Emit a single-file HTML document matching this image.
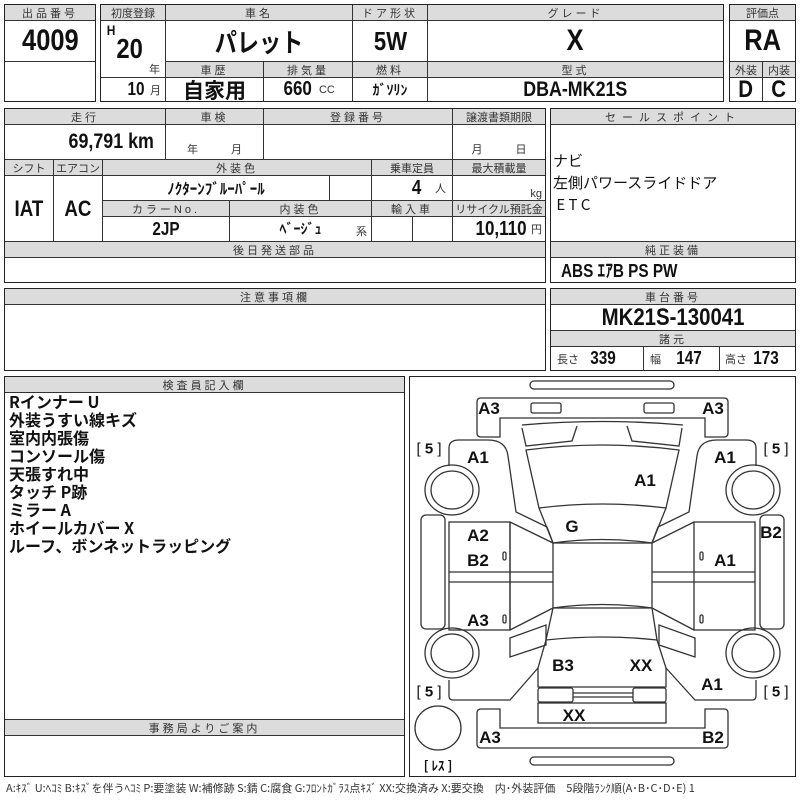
<!DOCTYPE html>
<html><head><meta charset="utf-8">
<style>
*{margin:0;padding:0;box-sizing:border-box}
body{width:800px;height:800px;background:#fff;position:relative;overflow:hidden;font-family:"Liberation Sans","Noto Sans CJK JP",sans-serif;color:#111}
.c{position:absolute;border:1px solid #333;display:flex;align-items:center;justify-content:center;white-space:nowrap;overflow:hidden}
.h{background:#dcdcdc;font-size:11px;letter-spacing:3px;color:#333}
.o{position:absolute;border:1.5px solid #222}
.v{font-family:"Liberation Sans Narrow","Liberation Sans","Noto Sans CJK JP",sans-serif;font-weight:bold;transform:scaleX(.85)}
.t{position:absolute;white-space:nowrap}
.sm{font-size:11px;color:#333;font-weight:normal}
.d{position:absolute;font-weight:bold;font-size:17px;font-family:"Liberation Sans","Noto Sans CJK JP",sans-serif;transform:translate(-50%,-50%);white-space:nowrap}
.memo{position:absolute;left:9px;top:392px;font-size:16px;font-weight:bold;line-height:18px;font-family:"Noto Sans CJK JP",sans-serif}
</style></head><body>
<!-- block A -->
<div class="c h" style="left:4px;top:4px;width:92px;height:17px">出品番号</div>
<div class="c" style="left:4px;top:20px;width:92px;height:42px"><span class="v" style="font-size:30px">4009</span></div>
<div class="c" style="left:4px;top:61px;width:92px;height:41px"></div>
<div class="o" style="left:4px;top:4px;width:92px;height:98px"></div>
<!-- block B -->
<div class="c h" style="left:100px;top:4px;width:66px;height:17px;letter-spacing:0">初度登録</div>
<div class="c h" style="left:165px;top:4px;width:188px;height:17px">車名</div>
<div class="c h" style="left:352px;top:4px;width:76px;height:17px">ドア形状</div>
<div class="c h" style="left:427px;top:4px;width:297px;height:17px">グレード</div>
<div class="c" style="left:100px;top:20px;width:66px;height:58px"></div>
<div class="t v" style="left:106px;top:22px;font-size:14px">H</div>
<div class="t v" style="left:114px;top:33px;font-size:28px">20</div>
<div class="t sm" style="left:149px;top:61px">年</div>
<div class="c" style="left:165px;top:20px;width:188px;height:42px"><span class="v" style="font-size:26px;font-family:'Noto Sans CJK JP',sans-serif">パレット</span></div>
<div class="c" style="left:352px;top:20px;width:76px;height:42px"><span class="v" style="font-size:26px">5W</span></div>
<div class="c" style="left:427px;top:20px;width:297px;height:42px"><span class="v" style="font-size:30px">X</span></div>
<div class="c h" style="left:165px;top:61px;width:99px;height:17px">車歴</div>
<div class="c h" style="left:263px;top:61px;width:90px;height:17px">排気量</div>
<div class="c h" style="left:352px;top:61px;width:76px;height:17px">燃料</div>
<div class="c h" style="left:427px;top:61px;width:297px;height:17px">型式</div>
<div class="c" style="left:100px;top:77px;width:66px;height:25px;justify-content:flex-end;padding-right:4px"><span class="v" style="font-size:18px">10</span>&nbsp;<span class="sm">月</span></div>
<div class="c" style="left:165px;top:77px;width:99px;height:25px"><span style="font-size:21px;font-weight:bold;font-family:'Noto Sans CJK JP',sans-serif">自家用</span></div>
<div class="c" style="left:263px;top:77px;width:90px;height:25px"><span class="v" style="font-size:20px">660</span>&nbsp;<span class="sm">CC</span></div>
<div class="c" style="left:352px;top:77px;width:76px;height:25px"><span style="font-size:14px;font-weight:bold;font-family:'Noto Sans CJK JP',sans-serif">ｶﾞｿﾘﾝ</span></div>
<div class="c" style="left:427px;top:77px;width:297px;height:25px"><span class="v" style="font-size:21px">DBA-MK21S</span></div>
<div class="o" style="left:100px;top:4px;width:624px;height:98px"></div>
<!-- block C -->
<div class="c h" style="left:729px;top:4px;width:67px;height:17px;letter-spacing:0">評価点</div>
<div class="c" style="left:729px;top:20px;width:67px;height:42px"><span class="v" style="font-size:30px">RA</span></div>
<div class="c h" style="left:729px;top:61px;width:34px;height:17px;letter-spacing:0">外装</div>
<div class="c h" style="left:762px;top:61px;width:34px;height:17px;letter-spacing:0">内装</div>
<div class="c" style="left:729px;top:77px;width:34px;height:25px"><span class="v" style="font-size:24px">D</span></div>
<div class="c" style="left:762px;top:77px;width:34px;height:25px"><span class="v" style="font-size:24px">C</span></div>
<div class="o" style="left:729px;top:4px;width:67px;height:98px"></div>
<!-- block 2 -->
<div class="c h" style="left:4px;top:108px;width:162px;height:17px">走行</div>
<div class="c h" style="left:165px;top:108px;width:99px;height:17px">車検</div>
<div class="c h" style="left:263px;top:108px;width:190px;height:17px">登録番号</div>
<div class="c h" style="left:452px;top:108px;width:94px;height:17px;letter-spacing:0">譲渡書類期限</div>
<div class="c" style="left:4px;top:124px;width:162px;height:36px;justify-content:flex-end;padding-right:4px"><span class="v" style="font-size:21px">69,791 km</span></div>
<div class="c" style="left:165px;top:124px;width:99px;height:36px;align-items:flex-end;padding-bottom:2px"><span class="sm">年　　　月</span></div>
<div class="c" style="left:263px;top:124px;width:190px;height:36px"></div>
<div class="c" style="left:452px;top:124px;width:94px;height:36px;align-items:flex-end;padding-bottom:2px"><span class="sm">月　　　日</span></div>
<div class="c h" style="left:4px;top:159px;width:50px;height:17px;letter-spacing:0">シフト</div>
<div class="c h" style="left:53px;top:159px;width:50px;height:17px;letter-spacing:0">エアコン</div>
<div class="c h" style="left:102px;top:159px;width:270px;height:17px">外装色</div>
<div class="c h" style="left:371px;top:159px;width:82px;height:17px;letter-spacing:0">乗車定員</div>
<div class="c h" style="left:452px;top:159px;width:94px;height:17px;letter-spacing:0">最大積載量</div>
<div class="c" style="left:4px;top:175px;width:50px;height:67px"><span class="v" style="font-size:22px">IAT</span></div>
<div class="c" style="left:53px;top:175px;width:50px;height:67px"><span class="v" style="font-size:22px">AC</span></div>
<div class="c" style="left:102px;top:175px;width:228px;height:26px"><span style="font-size:15px;font-weight:bold;font-family:'Noto Sans CJK JP',sans-serif">ﾉｸﾀｰﾝﾌﾞﾙｰﾊﾟｰﾙ</span></div>
<div class="c" style="left:329px;top:175px;width:43px;height:26px"></div>
<div class="c" style="left:371px;top:175px;width:82px;height:26px;justify-content:flex-end;padding-right:6px"><span class="v" style="font-size:20px">4</span>&nbsp;&nbsp;&nbsp;<span class="sm">人</span></div>
<div class="c" style="left:452px;top:175px;width:94px;height:26px;justify-content:flex-end;padding-right:3px;align-items:flex-end"><span class="sm">kg</span></div>
<div class="c h" style="left:102px;top:200px;width:128px;height:17px">カラーNo.</div>
<div class="c h" style="left:229px;top:200px;width:143px;height:17px">内装色</div>
<div class="c h" style="left:371px;top:200px;width:82px;height:17px">輸入車</div>
<div class="c h" style="left:452px;top:200px;width:94px;height:17px;letter-spacing:0">リサイクル預託金</div>
<div class="c" style="left:102px;top:216px;width:128px;height:26px"><span class="v" style="font-size:18px">2JP</span></div>
<div class="c" style="left:229px;top:216px;width:143px;height:26px"><span style="font-size:14px;font-weight:bold;font-family:'Noto Sans CJK JP',sans-serif">ﾍﾞｰｼﾞｭ</span><span class="sm" style="position:absolute;right:4px;bottom:2px">系</span></div>
<div class="c" style="left:371px;top:216px;width:42px;height:26px"></div>
<div class="c" style="left:412px;top:216px;width:41px;height:26px"></div>
<div class="c" style="left:452px;top:216px;width:94px;height:26px;justify-content:flex-end;padding-right:3px"><span class="v" style="font-size:20px">10,110</span><span class="sm">円</span></div>
<div class="c h" style="left:4px;top:241px;width:542px;height:17px">後日発送部品</div>
<div class="c" style="left:4px;top:257px;width:542px;height:26px"></div>
<div class="o" style="left:4px;top:108px;width:542px;height:175px"></div>
<!-- sales point -->
<div class="c h" style="left:550px;top:108px;width:246px;height:17px;letter-spacing:6px">セールスポイント</div>
<div class="c" style="left:550px;top:124px;width:246px;height:118px"></div>
<div class="t" style="left:553px;top:150px;font-size:15px;line-height:22px;font-family:'Noto Sans CJK JP',sans-serif">ナビ<br>左側パワースライドドア<br>&nbsp;E T C</div>
<div class="c h" style="left:550px;top:241px;width:246px;height:17px">純正装備</div>
<div class="c" style="left:550px;top:257px;width:246px;height:26px;justify-content:flex-start;padding-left:10px"><span class="v" style="font-size:18px;transform-origin:left">ABS ｴｱB PS PW</span></div>
<div class="o" style="left:550px;top:108px;width:246px;height:175px"></div>
<!-- 注意 -->
<div class="c h" style="left:4px;top:288px;width:542px;height:17px">注意事項欄</div>
<div class="o" style="left:4px;top:288px;width:542px;height:83px"></div>
<!-- 車台番号 -->
<div class="c h" style="left:550px;top:288px;width:246px;height:17px">車台番号</div>
<div class="c" style="left:550px;top:304px;width:246px;height:27px"><span class="v" style="font-size:24px">MK21S-130041</span></div>
<div class="c h" style="left:550px;top:330px;width:246px;height:17px">諸元</div>
<div class="c" style="left:550px;top:346px;width:94px;height:25px;justify-content:flex-start;padding-left:6px"><span class="sm">長さ</span>&nbsp;&nbsp;<span class="v" style="font-size:18px">339</span></div>
<div class="c" style="left:643px;top:346px;width:77px;height:25px;justify-content:flex-start;padding-left:6px"><span class="sm">幅</span>&nbsp;&nbsp;&nbsp;<span class="v" style="font-size:18px">147</span></div>
<div class="c" style="left:719px;top:346px;width:77px;height:25px;justify-content:flex-start;padding-left:5px"><span class="sm">高さ</span>&nbsp;<span class="v" style="font-size:18px">173</span></div>
<div class="o" style="left:550px;top:288px;width:246px;height:83px"></div>
<!-- 検査員 -->
<div class="c h" style="left:4px;top:376px;width:401px;height:17px">検査員記入欄</div>
<div class="memo">Rインナー U<br>外装うすい線キズ<br>室内内張傷<br>コンソール傷<br>天張すれ中<br>タッチ P跡<br>ミラー A<br>ホイールカバー X<br>ルーフ、ボンネットラッピング</div>
<div class="c h" style="left:4px;top:719px;width:401px;height:17px">事務局よりご案内</div>
<div class="o" style="left:4px;top:376px;width:401px;height:401px"></div>
<!-- diagram -->
<div class="o" style="left:409px;top:376px;width:387px;height:401px"></div>
<svg style="position:absolute;left:0;top:0" width="800" height="800" fill="none" stroke="#333" stroke-width="1.3">
<rect x="530" y="381" width="144" height="8" rx="4"/>
<rect x="530" y="757" width="144" height="8" rx="4"/>
<path d="M477,402q0,-4 4,-4H724q4,0 4,4V433q0,4 -4,4H705V418H500V437H481q-4,0 -4,-4Z"/>
<path d="M477,744q0,4 4,4H724q4,0 4,-4V713q0,-4 -4,-4H705V728H500V709H481q-4,0 -4,4Z"/>
<rect x="531" y="403" width="30" height="10" rx="2"/><rect x="644" y="403" width="30" height="10" rx="2"/>
<path d="M522,425Q602,418 683,425"/><path d="M522,428L526,446L572,441L577,426"/><path d="M627,426L632,441L679,446L682,428"/>
<path d="M526,450Q602,440 679,450L666,508Q602,500 539,508Z"/>
<path d="M539,508L553,543Q602,536 652,543L666,508"/>
<rect x="553" y="543" width="99" height="65"/>
<path d="M553,608Q602,601 652,608L657,640Q602,634 546,640Z"/>
<path d="M546,640L538,668V687H666V668L657,640"/>
<rect x="538" y="688" width="35" height="14" rx="2"/><rect x="633" y="688" width="33" height="14" rx="2"/>
<path d="M573,693H633M573,697H633"/>
<rect x="538" y="703" width="128" height="20"/>
<path d="M449,466V448q0,-8 10,-8H488q18,0 20,16L516,512L547,527L553,543"/>
<path d="M756,466V448q0,-8 -10,-8H717q-18,0 -20,16L689,512L658,527L652,543"/>
<path d="M449,680V696q0,4 4,4H510L538,668"/><path d="M756,680V696q0,4 -4,4H695L666,668"/>
<path d="M510,638L546,625V645L510,657Z"/><path d="M695,638L659,625V645L695,657Z"/>
<rect x="449" y="522" width="61" height="108"/><path d="M449,572H553M449,582H553"/><path d="M510,522L553,543M510,630L553,608"/><path d="M510,522V630"/>
<rect x="694" y="522" width="61" height="108"/><path d="M652,572H755M652,582H755"/><path d="M694,522L652,543M694,630L652,608"/>
<rect x="421" y="515" width="24" height="114" rx="5"/><rect x="760" y="515" width="24" height="114" rx="5"/>
<ellipse cx="452" cy="490" rx="27" ry="25"/><ellipse cx="452" cy="490" rx="21" ry="19"/>
<ellipse cx="753" cy="490" rx="27" ry="25"/><ellipse cx="753" cy="490" rx="21" ry="19"/>
<ellipse cx="452" cy="653" rx="27" ry="25"/><ellipse cx="452" cy="653" rx="21" ry="19"/>
<ellipse cx="753" cy="653" rx="27" ry="25"/><ellipse cx="753" cy="653" rx="21" ry="19"/>
<ellipse cx="438" cy="728" rx="23" ry="22"/>
<rect x="503" y="552" width="3" height="8" rx="1.5"/><rect x="503" y="615" width="3" height="8" rx="1.5"/>
<rect x="700" y="552" width="3" height="8" rx="1.5"/><rect x="700" y="615" width="3" height="8" rx="1.5"/>
</svg>
<div class="d" style="left:489px;top:409px">A3</div><div class="d" style="left:713px;top:409px">A3</div>
<div class="d" style="left:429px;top:449px;font-weight:normal;font-size:15px">[ <b>5</b> ]</div>
<div class="d" style="left:776px;top:449px;font-weight:normal;font-size:15px">[ <b>5</b> ]</div>
<div class="d" style="left:478px;top:458px">A1</div><div class="d" style="left:725px;top:458px">A1</div>
<div class="d" style="left:645px;top:481px">A1</div><div class="d" style="left:572px;top:527px">G</div>
<div class="d" style="left:478px;top:536px">A2</div><div class="d" style="left:478px;top:561px">B2</div>
<div class="d" style="left:725px;top:561px">A1</div><div class="d" style="left:771px;top:533px">B2</div>
<div class="d" style="left:478px;top:621px">A3</div>
<div class="d" style="left:563px;top:666px">B3</div><div class="d" style="left:641px;top:666px">XX</div>
<div class="d" style="left:712px;top:685px">A1</div>
<div class="d" style="left:429px;top:692px;font-weight:normal;font-size:15px">[ <b>5</b> ]</div>
<div class="d" style="left:776px;top:692px;font-weight:normal;font-size:15px">[ <b>5</b> ]</div>
<div class="d" style="left:574px;top:716px">XX</div>
<div class="d" style="left:490px;top:738px">A3</div><div class="d" style="left:713px;top:738px">B2</div>
<div class="d" style="left:438px;top:765px;font-size:13px;font-family:'Noto Sans CJK JP',sans-serif">[ ﾚｽ ]</div>
<div class="t" style="left:6px;top:780px;font-size:11px;color:#333;font-family:'Noto Sans CJK JP',sans-serif">A:ｷｽﾞ U:ﾍｺﾐ B:ｷｽﾞを伴うﾍｺﾐ P:要塗装 W:補修跡 S:錆 C:腐食 G:ﾌﾛﾝﾄｶﾞﾗｽ点ｷｽﾞ XX:交換済み X:要交換　内･外装評価　5段階ﾗﾝｸ順(A･B･C･D･E) 1</div>
</body></html>
